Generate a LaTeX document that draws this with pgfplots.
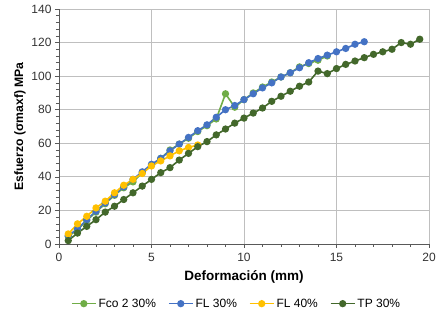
\documentclass[border=0pt]{standalone}
\usepackage{pgfplots}
\pgfplotsset{compat=1.18}
\usepackage{fontspec}
\setmainfont{Liberation Sans}
\definecolor{cFco}{HTML}{70AD47}
\definecolor{cFL3}{HTML}{4472C4}
\definecolor{cFL4}{HTML}{FFC000}
\definecolor{cTP}{HTML}{43682B}
\definecolor{axgray}{HTML}{595959}
\definecolor{grid}{HTML}{D9D9D9}
\begin{document}
\begin{tikzpicture}
\begin{axis}[
  scale only axis,
  width=370pt, height=235pt,
  xmin=0, xmax=20, ymin=0, ymax=140,
  xtick={0,5,10,15,20},
  ytick={0,20,...,140},
  minor x tick num=4,
  minor y tick num=4,
  tick align=outside,
  major tick length=4pt,
  minor tick length=3pt,
  axis x line*=bottom,
  axis y line*=left,
  axis line style={axgray, line width=0.8pt},
  tick style={axgray, line width=0.6pt},
  ymajorgrids,
  grid style={grid, line width=0.8pt},
  /pgf/number format/assume math mode=true,
  tick label style={font=\fontsize{12}{14}\selectfont, text=black!80},
  xticklabel style={yshift=-2pt},
  xlabel={\textbf{Deformación (mm)}},
  ylabel={\textbf{Esfuerzo (σmaxf) MPa}},
  xlabel style={font=\fontsize{13.5}{15}\selectfont, yshift=-2pt},
  ylabel style={font=\fontsize{12.2}{14}\selectfont, yshift=-1pt},
  legend columns=4,
  legend style={draw=none, at={(0.48,-0.215)}, anchor=north, font=\fontsize{12}{14}\selectfont, /tikz/every even column/.append style={column sep=10pt}},
  legend image code/.code={\draw[#1] (0pt,0pt) -- (24pt,0pt); \draw[#1, mark repeat=1] plot coordinates {(12pt,0pt)};},
  every axis plot/.append style={line width=1.6pt, mark=*, mark size=2.8pt},
  clip=false,
]
\addplot[cFco, mark options={fill=cFco, draw=cFco}] coordinates {
(0.5,4.5)(1,8.5)(1.5,14)(2,19)(2.5,24)(3,29)(3.5,33.5)(4,37)(4.5,42.5)(5,47)(5.5,51)(6,56)(6.5,59.5)(7,63)(7.5,67)(8,70.5)(8.5,74.5)(9,89.5)(9.5,81.5)(10,86)(10.5,90)(11,93.5)(11.5,96.5)(12,99.5)(12.5,102)(13,105.5)(13.5,107.5)(14,109.5)(14.5,112)};
\addlegendentry{Fco 2 30\%}
\addplot[cFL3, mark options={fill=cFL3, draw=cFL3}] coordinates {
(0.5,5)(1,9)(1.5,14.5)(2,19.5)(2.5,24.5)(3,29.5)(3.5,34)(4,38.5)(4.5,43)(5,47.5)(5.5,51)(6,55.5)(6.5,59.5)(7,63.5)(7.5,67.5)(8,71)(8.5,75.5)(9,80)(9.5,82.5)(10,86)(10.5,89.5)(11,93)(11.5,96)(12,99.5)(12.5,102)(13,105)(13.5,108)(14,110.5)(14.5,112.5)(15,114.5)(15.5,116.5)(16,119)(16.5,120.5)};
\addlegendentry{FL 30\%}
\addplot[cFL4, mark options={fill=cFL4, draw=cFL4}] coordinates {
(0.5,6)(1,12)(1.5,16.5)(2,21.5)(2.5,25.5)(3,30.5)(3.5,35)(4,38.5)(4.5,42)(5,46.5)(5.5,49.5)(6,52.5)(6.5,55.5)(7,57.5)(7.5,59)};
\addlegendentry{FL 40\%}
\addplot[cTP, mark options={fill=cTP, draw=cTP}] coordinates {
(0.5,2)(1,6.5)(1.5,10.5)(2,14.5)(2.5,19)(3,22.5)(3.5,26.5)(4,30.5)(4.5,34.5)(5,38.5)(5.5,42.5)(6,45.5)(6.5,50)(7,54)(7.5,58)(8,61)(8.5,65)(9,68.5)(9.5,72)(10,75)(10.5,78)(11,81)(11.5,85)(12,88)(12.5,91)(13,94)(13.5,96.5)(14,103)(14.5,101.5)(15,104.5)(15.5,107)(16,109)(16.5,111)(17,113)(17.5,114.5)(18,116)(18.5,120)(19,119)(19.5,122)};
\addlegendentry{TP 30\%}
\end{axis}
\path[use as bounding box] (current axis.south west) ++(-59pt,-64pt) rectangle ([shift={(18pt,9pt)}]current axis.north east);
\end{tikzpicture}
\end{document}
